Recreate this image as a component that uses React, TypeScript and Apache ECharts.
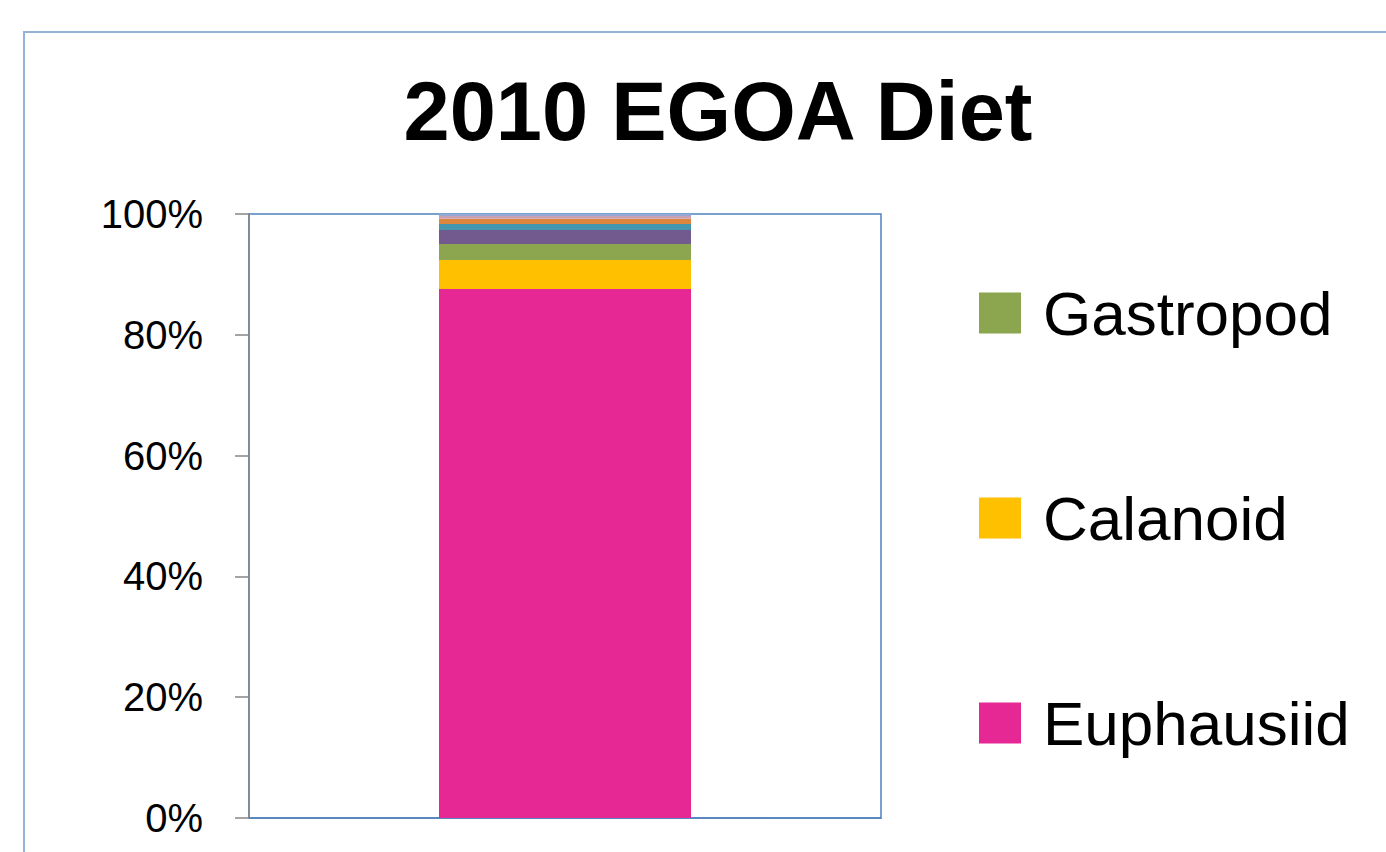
import React, { useEffect, useRef } from "react";
import * as echarts from "echarts";

const categories = ["2010 EGOA"];
const seriesNames = ["Euphausiid", "Calanoid", "Gastropod", "Other 4", "Other 5", "Other 6", "Other 7", "Other 8"];
const seriesValues = [87.6, 4.8, 2.64, 2.31, 0.99, 0.88, 0.45, 0.33];
const seriesColors = ["#E52893", "#FFC000", "#8BA64F", "#735A8E", "#4496AF", "#DB853D", "#C9A0B4", "#95A9D2"];
const legendNames = ["Gastropod", "Calanoid", "Euphausiid"];
const yTicks = [0, 20, 40, 60, 80, 100];

export default function App() {
  const ref = useRef<HTMLDivElement>(null);
  useEffect(() => {
    if (!ref.current) return;
    const chart = echarts.init(ref.current, null, { renderer: "svg" });
    const font = "Liberation Sans, Arial, sans-serif";
    chart.setOption({
      animation: false,
      backgroundColor: "#ffffff",
      graphic: [
        {
          type: "rect",
          shape: { x: 24, y: 32, width: 1420, height: 900 },
          style: { fill: "none", stroke: "#95B3D7", lineWidth: 2 },
          silent: true,
        },
        {
          type: "text",
          style: {
            text: "2010 EGOA Diet",
            x: 718,
            y: 111,
            align: "center",
            verticalAlign: "middle",
            fontFamily: font,
            fontWeight: "bold",
            fontSize: 83,
            fill: "#000000",
          },
        },
      ],
      grid: {
        left: 249,
        top: 214,
        width: 632,
        height: 604,
        show: true,
        borderColor: "#4F81BD",
        borderWidth: 1.5,
        backgroundColor: "transparent",
      },
      legend: {
        data: legendNames,
        orient: "vertical",
        left: 974,
        top: 277,
        itemWidth: 42,
        itemHeight: 41,
        itemGap: 143,
        icon: "rect",
        textStyle: {
          fontFamily: font,
          fontSize: 62,
          lineHeight: 62,
          color: "#000000",
          padding: [0, 0, 0, 17],
        },
        selectedMode: false,
      },
      xAxis: {
        type: "category",
        data: categories,
        axisLine: { show: true, lineStyle: { color: "#4F81BD", width: 1.5 } },
        axisTick: { show: false },
        axisLabel: { show: false },
      },
      yAxis: {
        type: "value",
        min: yTicks[0],
        max: yTicks[yTicks.length - 1],
        interval: 20,
        axisLine: { show: true, lineStyle: { color: "#868686", width: 1.5 } },
        axisTick: { show: true, length: 14, lineStyle: { color: "#868686", width: 1.5 } },
        splitLine: { show: false },
        axisLabel: {
          formatter: "{value}%",
          fontFamily: font,
          fontSize: 40,
          color: "#000000",
          margin: 46,
        },
      },
      series: seriesNames.map((name, i) => ({
        name,
        type: "bar",
        stack: "diet",
        barWidth: 252,
        data: [seriesValues[i]],
        itemStyle: { color: seriesColors[i] },
      })),
    });
    return () => chart.dispose();
  }, []);
  return (
    <div
      ref={ref}
      style={{ position: "fixed", left: 0, top: 0, width: 1386, height: 852 }}
    />
  );
}
